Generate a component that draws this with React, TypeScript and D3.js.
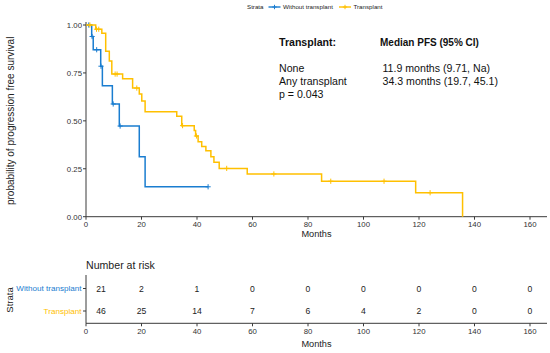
import React from "react";
import * as d3 from "d3";

// Kaplan-Meier steps (months, survival after the event)
const withoutTimes = [2.05, 2.6, 5.3, 5.9, 9.5, 12.0, 19.2, 21.3];
const withoutSurv = [0.94, 0.871, 0.785, 0.683, 0.588, 0.473, 0.313, 0.156];
const withoutCensor = [1.0, 2.2, 3.85, 5.4, 9.8, 12.3, 44];
const withoutEnd = 44;

const transTimes = [3.5, 5.7, 7.1, 8.4, 9.3, 13.2, 16.8, 19.2, 20.1, 21.3, 32.7, 34.5, 39.0, 39.5, 40.4, 41.7, 43.2, 45.0, 46.1, 48.0, 58.1, 84.9, 118.8, 135.7];
const transSurv = [0.978, 0.957, 0.863, 0.812, 0.744, 0.72, 0.671, 0.64, 0.604, 0.548, 0.524, 0.475, 0.45, 0.421, 0.391, 0.366, 0.344, 0.313, 0.284, 0.252, 0.223, 0.185, 0.125, 0];
const transCensor = [1.4, 3.8, 4.6, 10.5, 11.2, 18.3, 34.8, 39.8, 50.7, 67.7, 88.2, 107.4, 124];
const transEnd = 135.7;

// number at risk table
const riskTimes = [0, 20, 40, 60, 80, 100, 120, 140, 160];
const riskWithout = [21, 2, 1, 0, 0, 0, 0, 0, 0];
const riskTrans = [46, 25, 14, 7, 6, 4, 2, 0, 0];

const strata = ["Without transplant", "Transplant"];
const xTicks = [0, 20, 40, 60, 80, 100, 120, 140, 160];
const yTicks = [0, 0.25, 0.5, 0.75, 1];

const BLUE = "#1A7DD0";
const GOLD = "#FFC000";
const AXIS = "#3a3a3a";
const FONT = "'Liberation Sans', Arial, sans-serif";

const x = d3.scaleLinear().domain([0, 160]).range([86, 530]);
const y = d3.scaleLinear().domain([0, 1]).range([216.7, 25]);
const yRisk = d3.scalePoint().domain(strata).range([288.5, 311]);

const stepLine = d3
  .line<[number, number]>()
  .x((d) => x(d[0]))
  .y((d) => y(d[1]))
  .curve(d3.curveStepAfter);

function curvePoints(times: number[], surv: number[], end: number): [number, number][] {
  const pts: [number, number][] = [[0, 1]];
  times.forEach((t, i) => pts.push([t, surv[i]]));
  pts.push([end, surv[surv.length - 1]]);
  return pts;
}

function survAt(times: number[], surv: number[], t: number) {
  const i = d3.bisectRight(times, t);
  return i === 0 ? 1 : surv[i - 1];
}

function Plus({ cx, cy, color, r = 2.6 }: { cx: number; cy: number; color: string; r?: number }) {
  return (
    <g stroke={color} strokeWidth={1}>
      <line x1={cx - r} x2={cx + r} y1={cy} y2={cy} />
      <line x1={cx} x2={cx} y1={cy - r} y2={cy + r} />
    </g>
  );
}

export default function App() {
  const series = [
    { name: strata[0], color: BLUE, times: withoutTimes, surv: withoutSurv, censor: withoutCensor, end: withoutEnd },
    { name: strata[1], color: GOLD, times: transTimes, surv: transSurv, censor: transCensor, end: transEnd },
  ];
  const risk = [riskWithout, riskTrans];

  return (
    <svg
      width={550}
      height={353}
      style={{ position: "absolute", left: 0, top: 0, background: "#fff" }}
      fontFamily={FONT}
    >
      {/* legend */}
      <g fontSize={6.2} fill="#222">
        <text x={247} y={9.2}>Strata</text>
        <line x1={268.5} x2={280.5} y1={7} y2={7} stroke={BLUE} strokeWidth={1.4} />
        <Plus cx={274.5} cy={7} color={BLUE} r={2.2} />
        <text x={283} y={9.2}>Without transplant</text>
        <line x1={339} x2={351} y1={7} y2={7} stroke={GOLD} strokeWidth={1.4} />
        <Plus cx={345} cy={7} color={GOLD} r={2.2} />
        <text x={353.5} y={9.2}>Transplant</text>
      </g>

      {/* y axis */}
      <text
        transform={`translate(14,${(y(0) + y(1)) / 2}) rotate(-90)`}
        textAnchor="middle"
        fontSize={10}
        fill="#222"
      >
        probability of progression free survival
      </text>
      <line x1={x(0)} x2={x(0)} y1={y(0)} y2={y(1) - 3} stroke={AXIS} strokeWidth={1} />
      {yTicks.map((t) => (
        <g key={t}>
          <line x1={x(0) - 3} x2={x(0)} y1={y(t)} y2={y(t)} stroke={AXIS} />
          <text x={x(0) - 4} y={y(t) + 2.8} textAnchor="end" fontSize={7.8} fill="#333">
            {t.toFixed(2)}
          </text>
        </g>
      ))}

      {/* x axis */}
      <line x1={x(0)} x2={547} y1={y(0)} y2={y(0)} stroke={AXIS} strokeWidth={1} />
      {xTicks.map((t) => (
        <g key={t}>
          <line x1={x(t)} x2={x(t)} y1={y(0)} y2={y(0) + 3} stroke={AXIS} />
          <text x={x(t)} y={227} textAnchor="middle" fontSize={7.8} fill="#333">
            {t}
          </text>
        </g>
      ))}
      <text x={316.5} y={237.3} textAnchor="middle" fontSize={9.2} fill="#222">
        Months
      </text>

      {/* curves */}
      {series.map((s) => (
        <g key={s.name}>
          <path d={stepLine(curvePoints(s.times, s.surv, s.end)) || ""} fill="none" stroke={s.color} strokeWidth={1.5} />
          {s.censor.map((c, i) => (
            <Plus key={i} cx={x(c)} cy={y(survAt(s.times, s.surv, c))} color={s.color} />
          ))}
        </g>
      ))}

      {/* annotation */}
      <g fill="#111" fontSize={10.6}>
        <text x={279} y={45.5} fontWeight="bold">Transplant:</text>
        <text x={380} y={45.5} fontWeight="bold" fontSize={10}>Median PFS (95% CI)</text>
        <text x={279} y={72}>None</text>
        <text x={279} y={85}>Any transplant</text>
        <text x={279} y={98}>p = 0.043</text>
        <text x={382.5} y={72}>11.9 months (9.71, Na)</text>
        <text x={382.5} y={85}>34.3 months (19.7, 45.1)</text>
      </g>

      {/* risk table */}
      <text x={86} y={269} fontSize={10.6} fill="#222">Number at risk</text>
      <text transform={`translate(12.5,300) rotate(-90)`} textAnchor="middle" fontSize={9.5} fill="#222">
        Strata
      </text>
      <line x1={x(0)} x2={x(0)} y1={275} y2={323.3} stroke={AXIS} />
      <line x1={x(0)} x2={547} y1={323.3} y2={323.3} stroke={AXIS} />
      {series.map((s, si) => (
        <g key={s.name}>
          <line x1={x(0) - 3} x2={x(0)} y1={yRisk(s.name)} y2={yRisk(s.name)} stroke={AXIS} />
          <text x={81.5} y={(yRisk(s.name) || 0) + 2.9} textAnchor="end" fontSize={8.1} fill={s.color}>
            {s.name}
          </text>
          {riskTimes.map((t, i) => (
            <text
              key={t}
              x={i === 0 ? x(t) + 15 : x(t)}
              y={(yRisk(s.name) || 0) + 3.1}
              textAnchor="middle"
              fontSize={8.6}
              fill="#222"
            >
              {risk[si][i]}
            </text>
          ))}
        </g>
      ))}
      {xTicks.map((t) => (
        <g key={t}>
          <line x1={x(t)} x2={x(t)} y1={323.3} y2={326.3} stroke={AXIS} />
          <text x={x(t)} y={334.3} textAnchor="middle" fontSize={7.8} fill="#333">
            {t}
          </text>
        </g>
      ))}
      <text x={316.5} y={346.5} textAnchor="middle" fontSize={9.2} fill="#222">
        Months
      </text>
    </svg>
  );
}
